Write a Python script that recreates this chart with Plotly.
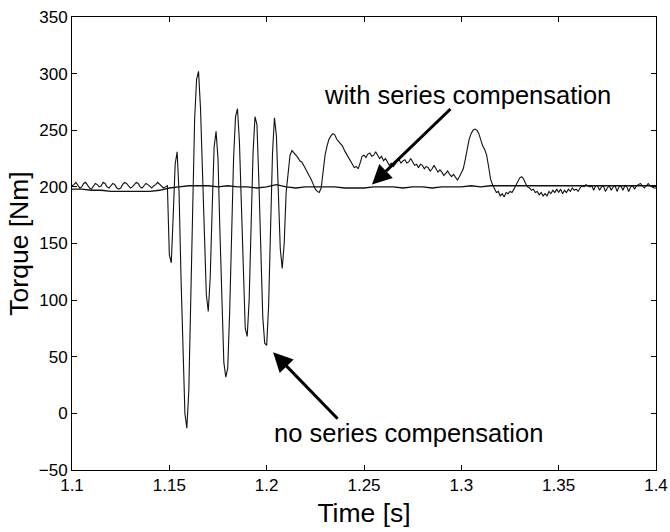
import plotly.graph_objects as go

# ---- data ----
# "no series compensation" torque, 1 ms steps from 1.100 s (one row per 10 ms)
no_comp = [
    201, 202, 204, 201, 199, 200, 203, 204, 201, 199,   # 1.100
    198, 200, 203, 202, 200, 201, 204, 203, 200, 199,   # 1.110
    201, 203, 202, 199, 198, 199, 202, 204, 203, 201,   # 1.120
    199, 200, 202, 204, 203, 200, 199, 201, 203, 202,   # 1.130
    200, 199, 201, 202, 204, 202, 201, 199, 200, 201,   # 1.140
    140, 133, 175, 220, 231, 195, 120, 50, 0, -13,      # 1.150
    20, 100, 190, 260, 295, 302, 270, 210, 150, 105,    # 1.160
    90, 120, 180, 235, 249, 225, 160, 95, 45, 32,       # 1.170
    40, 90, 160, 225, 262, 269, 240, 180, 115, 75,      # 1.180
    68, 100, 165, 230, 262, 255, 205, 140, 85, 62,      # 1.190
    60, 95, 160, 230, 261, 245, 195, 145, 128, 150,     # 1.200
    195, 215, 228, 232, 230, 227, 226, 223, 222, 219,   # 1.210
    216, 213, 210, 206, 202, 198, 196, 195, 199, 215,   # 1.220
    228, 236, 242, 245, 247, 246, 242, 240, 238, 236,   # 1.230
    232, 229, 226, 224, 220, 217, 218, 216, 221, 227,   # 1.240
    228, 226, 229, 230, 227, 228, 231, 228, 225, 227,   # 1.250
    223, 225, 222, 219, 221, 218, 220, 223, 224, 221,   # 1.260
    223, 224, 221, 222, 225, 222, 219, 220, 217, 220,   # 1.270
    219, 216, 218, 217, 214, 216, 219, 216, 213, 215,   # 1.280
    213, 210, 212, 214, 211, 209, 211, 208, 206, 209,   # 1.290
    212, 216, 224, 234, 242, 247, 250, 251, 250, 247,   # 1.300
    241, 236, 233, 228, 218, 207, 202, 198, 195, 196,   # 1.310
    192, 194, 191, 195, 194, 196, 195, 198, 201, 205,   # 1.320
    208, 209, 207, 203, 200, 199, 197, 198, 195, 196,   # 1.330
    193, 195, 192, 194, 192, 196, 194, 197, 195, 198,   # 1.340
    195, 198, 194, 197, 195, 198, 196, 199, 197, 198,   # 1.350
    196, 199, 201, 200, 202, 201, 200, 201, 197, 201,   # 1.360
    201, 197, 200, 201, 196, 199, 201, 197, 200, 201,   # 1.370
    196, 200, 201, 197, 201, 200, 196, 200, 201, 198,   # 1.380
    201, 202, 203, 201, 199, 201, 203, 201, 200, 199,   # 1.390
    199,                                                # 1.400
]
no_comp_time = [round(1.1 + 0.001 * i, 3) for i in range(len(no_comp))]

# "with series compensation" torque, 5 ms steps from 1.100 s
with_comp = [
    198, 198, 197, 197, 196, 196, 196, 196, 196, 197,   # 1.100 - 1.145
    199, 200, 201, 201, 201, 200, 201, 200, 200, 199,   # 1.150 - 1.195
    200, 202, 200, 199, 200, 200, 200, 200, 199, 199,   # 1.200 - 1.245
    199, 200, 200, 200, 199, 200, 200, 199, 200, 200,   # 1.250 - 1.295
    200, 201, 200, 201, 201, 201, 201, 201, 201, 201,   # 1.300 - 1.345
    201, 201, 201, 201, 201, 201, 201, 201, 201, 201,   # 1.350 - 1.395
    201,                                                # 1.400
]
with_comp_time = [round(1.1 + 0.005 * i, 3) for i in range(len(with_comp))]

x_ticks = [1.1, 1.15, 1.2, 1.25, 1.3, 1.35, 1.4]
x_tick_labels = ["1.1", "1.15", "1.2", "1.25", "1.3", "1.35", "1.4"]
y_ticks = [-50, 0, 50, 100, 150, 200, 250, 300, 350]

FONT = "Liberation Sans, Arial, Helvetica, sans-serif"

fig = go.Figure()
fig.add_trace(go.Scatter(x=with_comp_time, y=with_comp, mode="lines",
                         line=dict(color="#111111", width=1.3),
                         name="with series compensation"))
fig.add_trace(go.Scatter(x=no_comp_time, y=no_comp, mode="lines",
                         line=dict(color="#111111", width=1.1),
                         name="no series compensation"))

axis_common = dict(showline=True, linecolor="black", linewidth=1, mirror="ticks",
                   ticks="inside", ticklen=5, tickcolor="black", tickwidth=1,
                   showgrid=False, zeroline=False, automargin=False,
                   ticklabeloverflow="allow",
                   tickfont=dict(family=FONT, size=17, color="black"))

fig.update_xaxes(range=[1.1, 1.4], tickvals=x_ticks, ticktext=x_tick_labels,
                 title=dict(text="Time [s]", font=dict(family=FONT, size=26.5, color="black"),
                            standoff=9),
                 **axis_common)
fig.update_yaxes(range=[-50, 350], tickvals=y_ticks,
                 title=dict(text="Torque [Nm]", font=dict(family=FONT, size=26.5, color="black"),
                            standoff=2),
                 **axis_common)

# arrows (tail -> tip) in data coordinates
fig.add_annotation(x=1.2541, y=202, ax=1.2952, ay=270, xref="x", yref="y",
                   axref="x", ayref="y", text="", showarrow=True,
                   arrowhead=2, arrowsize=1.3, arrowwidth=3, arrowcolor="black")
fig.add_annotation(x=1.2033, y=54, ax=1.2372, ay=-6, xref="x", yref="y",
                   axref="x", ayref="y", text="", showarrow=True,
                   arrowhead=2, arrowsize=1.3, arrowwidth=3, arrowcolor="black")
fig.add_annotation(x=1.3034, y=281, xref="x", yref="y", text="with series compensation",
                   showarrow=False, font=dict(family=FONT, size=25.5, color="black"))
fig.add_annotation(x=1.2731, y=-17, xref="x", yref="y", text="no series compensation",
                   showarrow=False, font=dict(family=FONT, size=25.5, color="black"))

fig.update_layout(template="none", width=670, height=532,
                  margin=dict(l=72, r=14, t=17, b=62),
                  plot_bgcolor="white", paper_bgcolor="white", showlegend=False)

# remove the default 8 px page margin so the figure fills the 670x532 window exactly
fig.write_html("out.html", config={"displayModeBar": False},
               post_script="document.body.style.margin='0';document.body.style.overflow='hidden';")
